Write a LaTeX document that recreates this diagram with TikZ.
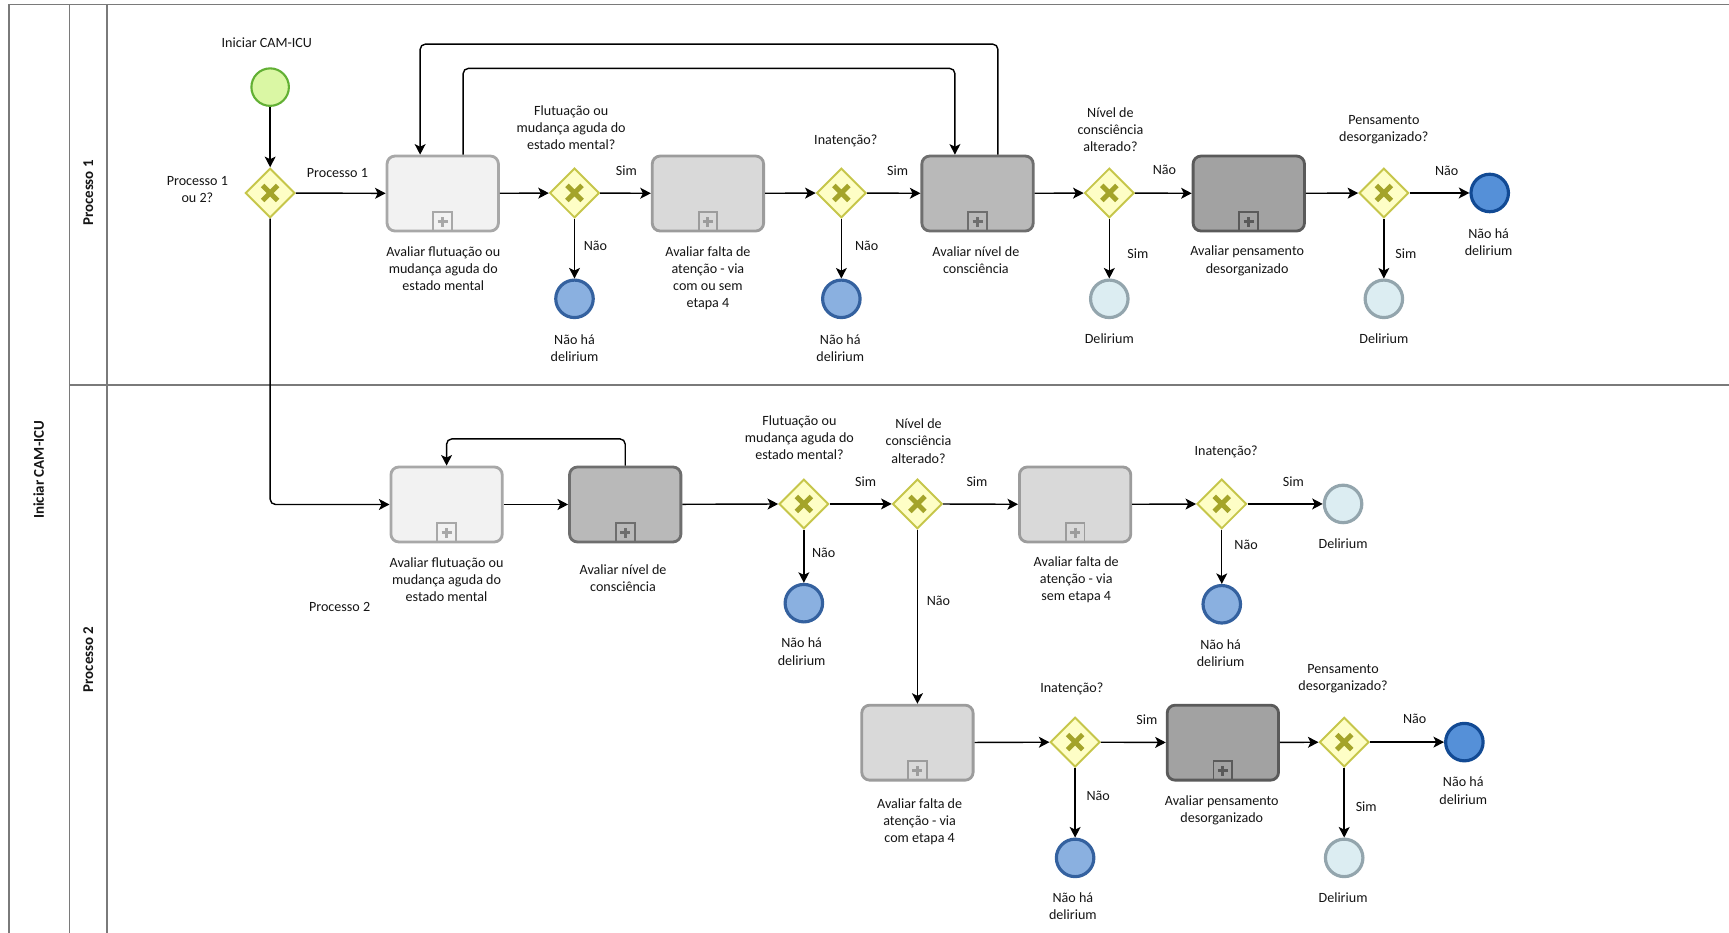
\documentclass[tikz,border=0pt]{standalone}
\usepackage{fontspec}
\setmainfont{Carlito}
\usetikzlibrary{shapes.geometric, arrows.meta}

\definecolor{txtcol}{HTML}{151515}
\definecolor{poolline}{HTML}{7A7A7A}
\definecolor{gwfill}{HTML}{FEFEC6}
\definecolor{gwline}{HTML}{C6C64A}
\definecolor{gwx}{HTML}{A4A42A}
\definecolor{stfill}{HTML}{DAF7A4}
\definecolor{stline}{HTML}{62B034}
\definecolor{endAfill}{HTML}{8AB0E0}
\definecolor{endAline}{HTML}{34619F}
\definecolor{endBfill}{HTML}{5590D8}
\definecolor{endBline}{HTML}{124A94}
\definecolor{dlfill}{HTML}{DCEDF2}
\definecolor{dlline}{HTML}{93A5AD}
\definecolor{tA}{HTML}{F2F2F2}
\definecolor{tAline}{HTML}{A8A8A8}
\definecolor{tB}{HTML}{D9D9D9}
\definecolor{tBline}{HTML}{9C9C9C}
\definecolor{tC}{HTML}{B9B9B9}
\definecolor{tCline}{HTML}{6E6E6E}
\definecolor{tD}{HTML}{A2A2A2}
\definecolor{tDline}{HTML}{5A5A5A}

\tikzset{
  pool/.style={draw=poolline, line width=0.9pt},
  lanetitle/.style={font=\fontsize{8.5}{10}\selectfont\bfseries, text=txtcol, inner sep=0pt},
  txt/.style={align=center, inner sep=0pt, text=txtcol},
  flow/.style={draw=black, line width=0.8pt, rounded corners=3pt,
    -{Stealth[length=6pt, width=6.2pt, inset=1.5pt]}},
  task/.style 2 args={rectangle, rounded corners=4.5pt, minimum width=2.222cm,
    minimum height=1.496cm, inner sep=0pt, line width=1.6pt, fill=#1, draw=#2,
    path picture={
      \draw[#2, fill=#1, line width=1.1pt, sharp corners]
        ([xshift=-0.187cm]path picture bounding box.south) rectangle
        ([xshift=0.187cm, yshift=0.374cm]path picture bounding box.south);
      \draw[#2, line width=1.7pt, sharp corners]
        ([xshift=-0.1cm, yshift=0.187cm]path picture bounding box.south) --
        ([xshift=0.1cm, yshift=0.187cm]path picture bounding box.south)
        ([yshift=0.087cm]path picture bounding box.south) --
        ([yshift=0.287cm]path picture bounding box.south);
    }},
  gw/.style={diamond, minimum width=0.99cm, minimum height=0.99cm, inner sep=0pt,
    fill=gwfill, draw=gwline, line width=1.1pt,
    path picture={
      \draw[gwx, line width=2.8pt]
        ([shift={(-0.15cm,-0.15cm)}]path picture bounding box.center) --
        ([shift={(0.15cm,0.15cm)}]path picture bounding box.center)
        ([shift={(-0.15cm,0.15cm)}]path picture bounding box.center) --
        ([shift={(0.15cm,-0.15cm)}]path picture bounding box.center);
    }},
  startev/.style={circle, minimum size=0.748cm, inner sep=0pt, fill=stfill, draw=stline, line width=1.2pt},
  endA/.style={circle, minimum size=0.748cm, inner sep=0pt, fill=endAfill, draw=endAline, line width=1.8pt},
  endB/.style={circle, minimum size=0.748cm, inner sep=0pt, fill=endBfill, draw=endBline, line width=1.8pt},
  delir/.style={circle, minimum size=0.748cm, inner sep=0pt, fill=dlfill, draw=dlline, line width=1.8pt},
}

\begin{document}
\begin{tikzpicture}[x=0.022cm, y=-0.022cm, font=\fontsize{8}{9.7}\selectfont]
\fill[white] (0,0) rectangle (1568,846);
\useasboundingbox (0,0) rectangle (1568,846);

% pool and lanes
\draw[pool] (8,846) -- (8,4) -- (1568,4);
\draw[pool] (63,4) -- (63,846);
\draw[pool] (97,4) -- (97,846);
\draw[pool] (63,349) -- (1568,349);
\node[lanetitle, rotate=90] (poolname) at (35,426) {Iniciar CAM-ICU};
\node[lanetitle, rotate=90] (lane1) at (80,175) {Processo 1};
\node[lanetitle, rotate=90] (lane2) at (80,598) {Processo 2};

% ---- Processo 1 ----
\node[startev] (start) at (245,79) {};
\node[txt] (startlbl) at (242,39) {Iniciar CAM-ICU};
\node[gw] (g1) at (245,175) {};
\node[txt] (g1lbl) at (179,172) {Processo 1\\ou 2?};
\node[task={tA}{tAline}] (t1) at (401.5,175.5) {};
\node[txt] (t1lbl) at (402,243.5) {Avaliar flutuação ou\\mudança aguda do\\estado mental};
\node[gw] (g2) at (521,175) {};
\node[txt] (g2lbl) at (518,116) {Flutuação ou\\mudança aguda do\\estado mental?};
\node[endA] (e1) at (521,271) {};
\node[txt] (e1lbl) at (521,316) {Não há\\delirium};
\node[task={tB}{tBline}] (t2) at (642,175.5) {};
\node[txt] (t2lbl) at (642,252) {Avaliar falta de\\atenção - via\\com ou sem\\etapa 4};
\node[gw] (g3) at (763,175) {};
\node[txt] (g3lbl) at (767,128) {Inatenção?};
\node[endA] (e2) at (763,271) {};
\node[txt] (e2lbl) at (762,316) {Não há\\delirium};
\node[task={tC}{tCline}] (t3) at (886.5,175.5) {};
\node[txt] (t3lbl) at (885,236) {Avaliar nível de\\consciência};
\node[gw] (g4) at (1006,175) {};
\node[txt] (g4lbl) at (1007,117.5) {Nível de\\consciência\\alterado?};
\node[delir] (d1) at (1006,271) {};
\node[txt] (d1lbl) at (1006,307) {Delirium};
\node[task={tD}{tDline}] (t4) at (1132.5,175.5) {};
\node[txt] (t4lbl) at (1131,236.5) {Avaliar pensamento\\desorganizado};
\node[gw] (g5) at (1255,175) {};
\node[txt] (g5lbl) at (1255,118) {Pensamento\\desorganizado?};
\node[delir] (d2) at (1255,271) {};
\node[txt] (d2lbl) at (1255,307) {Delirium};
\node[endB] (e3) at (1351,175) {};
\node[txt] (e3lbl) at (1350,220) {Não há\\delirium};

% ---- Processo 2 ----
\node[task={tA}{tAline}] (t5) at (405,457.5) {};
\node[txt] (t5lbl) at (405,525.5) {Avaliar flutuação ou\\mudança aguda do\\estado mental};
\node[task={tC}{tCline}] (t6) at (567,457.5) {};
\node[txt] (t6lbl) at (565,524) {Avaliar nível de\\consciência};
\node[gw] (g6) at (729,457) {};
\node[txt] (g6lbl) at (725,397) {Flutuação ou\\mudança aguda do\\estado mental?};
\node[endA] (e4) at (729,547) {};
\node[txt] (e4lbl) at (727,591) {Não há\\delirium};
\node[gw] (g7) at (832,457) {};
\node[txt] (g7lbl) at (833,400) {Nível de\\consciência\\alterado?};
\node[task={tB}{tBline}] (t7) at (975,457.5) {};
\node[txt] (t7lbl) at (976,526) {Avaliar falta de\\atenção - via\\sem etapa 4};
\node[gw] (g8) at (1108,457) {};
\node[txt] (g8lbl) at (1112,410) {Inatenção?};
\node[delir] (d3) at (1218,457) {};
\node[txt] (d3lbl) at (1218,493) {Delirium};
\node[endA] (e5) at (1108,548) {};
\node[txt] (e5lbl) at (1107,592) {Não há\\delirium};
\node[task={tB}{tBline}] (t8) at (832,673.5) {};
\node[txt] (t8lbl) at (834,745.5) {Avaliar falta de\\atenção - via\\com etapa 4};
\node[gw] (g9) at (975,673) {};
\node[txt] (g9lbl) at (972,625) {Inatenção?};
\node[endA] (e6) at (975,778) {};
\node[txt] (e6lbl) at (973,822) {Não há\\delirium};
\node[task={tD}{tDline}] (t9) at (1109,673.5) {};
\node[txt] (t9lbl) at (1108,734.5) {Avaliar pensamento\\desorganizado};
\node[gw] (g10) at (1219,673) {};
\node[txt] (g10lbl) at (1218,615.5) {Pensamento\\desorganizado?};
\node[delir] (d4) at (1219,778) {};
\node[txt] (d4lbl) at (1218,814) {Delirium};
\node[endB] (e7) at (1328,673) {};
\node[txt] (e7lbl) at (1327,717) {Não há\\delirium};

% ---- sequence flows, Processo 1 ----
\draw[flow] (start) -- (g1);
\draw[flow] (g1) -- (t1);
\draw[flow] (t1) -- (g2);
\draw[flow] (g2) -- (t2);
\draw[flow] (g2) -- (e1);
\draw[flow] (t2) -- (g3);
\draw[flow] (g3) -- (t3);
\draw[flow] (g3) -- (e2);
\draw[flow] (t3) -- (g4);
\draw[flow] (g4) -- (t4);
\draw[flow] (g4) -- (d1);
\draw[flow] (t4) -- (g5);
\draw[flow] (g5) -- (e3);
\draw[flow] (g5) -- (d2);
\coordinate (lo1) at (905,40);
\coordinate (lo2) at (381,40);
\draw[flow] (t3.north -| lo1) -- (lo1) -- (lo2) -- (t1.north -| lo2);
\coordinate (li1) at (420,62);
\coordinate (li2) at (866,62);
\draw[flow] (t1.north -| li1) -- (li1) -- (li2) -- (t3.north -| li2);

% ---- sequence flows, Processo 2 ----
\draw[flow] (g1.south) |- (t5.west);
\draw[flow] (t5) -- (t6);
\coordinate (lr) at (567,398);
\draw[flow] (t6.north) -- (lr) -| (t5.north);
\draw[flow] (t6) -- (g6);
\draw[flow] (g6) -- (g7);
\draw[flow] (g6) -- (e4);
\draw[flow] (g7) -- (t7);
\draw[flow] (g7) -- (t8);
\draw[flow] (t7) -- (g8);
\draw[flow] (g8) -- (d3);
\draw[flow] (g8) -- (e5);
\draw[flow] (t8) -- (g9);
\draw[flow] (g9) -- (t9);
\draw[flow] (g9) -- (e6);
\draw[flow] (t9) -- (g10);
\draw[flow] (g10) -- (e7);
\draw[flow] (g10) -- (d4);

% ---- flow labels ----
\node[txt] (lp1) at (306,157) {Processo 1};
\node[txt] (lg2s) at (568,155) {Sim};
\node[txt] (lg2n) at (540,223) {Não};
\node[txt] (lg3s) at (814,155) {Sim};
\node[txt] (lg3n) at (786,223) {Não};
\node[txt] (lg4n) at (1056,154) {Não};
\node[txt] (lg4s) at (1032,230) {Sim};
\node[txt] (lg5n) at (1312,155) {Não};
\node[txt] (lg5s) at (1275,230) {Sim};
\node[txt] (lp2) at (308,550) {Processo 2};
\node[txt] (lg6s) at (785,437) {Sim};
\node[txt] (lg6n) at (747,501) {Não};
\node[txt] (lg7s) at (886,437) {Sim};
\node[txt] (lg7n) at (851,545) {Não};
\node[txt] (lg8s) at (1173,437) {Sim};
\node[txt] (lg8n) at (1130,494) {Não};
\node[txt] (lg9s) at (1040,653) {Sim};
\node[txt] (lg9n) at (996,722) {Não};
\node[txt] (lg10n) at (1283,652) {Não};
\node[txt] (lg10s) at (1239,732) {Sim};
\end{tikzpicture}
\end{document}
